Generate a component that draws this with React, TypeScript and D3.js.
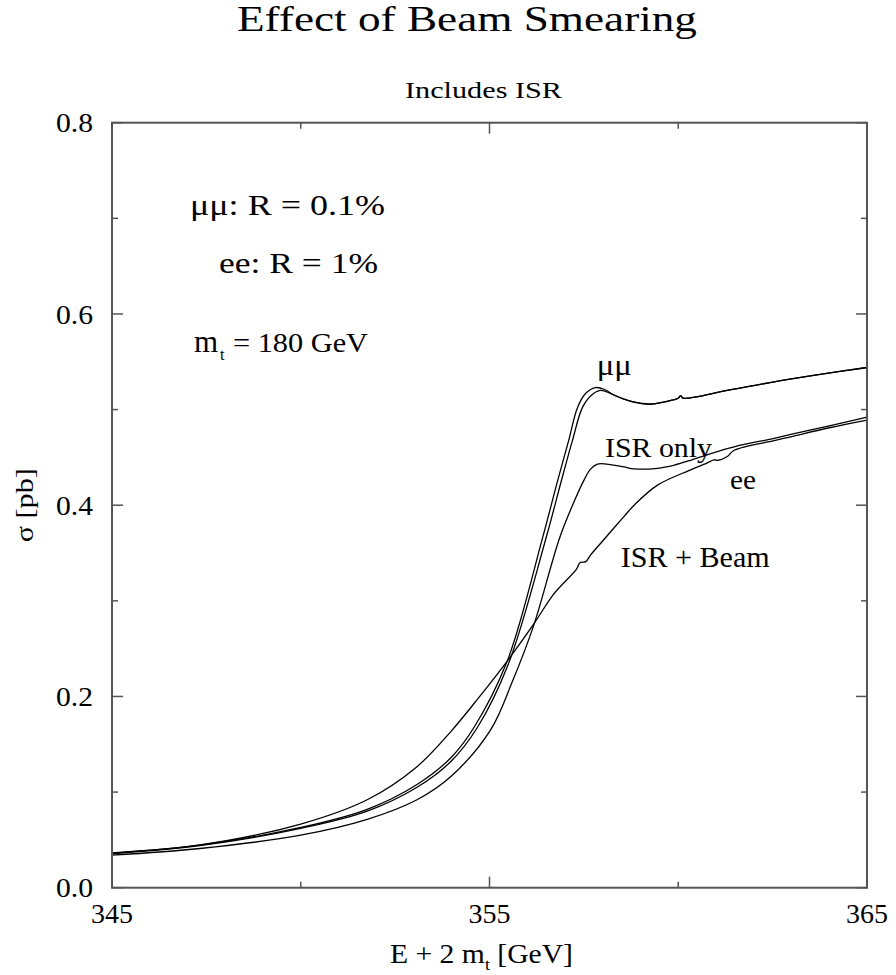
import React from "react";
import * as d3 from "d3";

// ---- data ----
const xTicksMajor = [345, 355, 365];
const xTicksMinor = [350, 360];
const yTicksMajor = [0, 0.2, 0.4, 0.6, 0.8];
const yTicksMinor = [0.1, 0.3, 0.5, 0.7];
const xTickLabels = ["345", "355", "365"];
const yTickLabels = ["0.0", "0.2", "0.4", "0.6", "0.8"];

// mu mu, ISR only (outer curve)
const muIsr: [number, number][] = [
  [345, 0.036], [347.33, 0.0445], [350, 0.063], [351.76, 0.082], [353.08, 0.108],
  [353.97, 0.1356], [354.58, 0.167], [355.47, 0.237], [356.4, 0.365], [356.8, 0.425],
  [357.1, 0.468], [357.33, 0.502], [357.55, 0.517], [357.8, 0.523], [358.05, 0.521],
  [358.3, 0.515], [358.82, 0.508], [359.27, 0.506], [359.9, 0.5105], [360.0, 0.5118],
  [360.06, 0.5145], [360.13, 0.512], [361.3, 0.520], [362.54, 0.529], [363.8, 0.537],
  [365, 0.544],
];
// mu mu, ISR + beam (inner curve)
const muBeam: [number, number][] = [
  [345, 0.0355], [347.33, 0.044], [350, 0.062], [351.76, 0.080], [353.08, 0.105],
  [353.97, 0.1317], [354.67, 0.167], [355.5, 0.234], [356.5, 0.366], [356.9, 0.425],
  [357.2, 0.468], [357.46, 0.502], [357.7, 0.515], [357.94, 0.520], [358.2, 0.517],
  [358.5, 0.512], [358.85, 0.5075], [359.27, 0.5055], [359.9, 0.5105], [360.0, 0.5118],
  [360.06, 0.5145], [360.13, 0.512], [361.3, 0.520], [362.54, 0.529], [363.8, 0.537],
  [365, 0.544],
];
// e e, ISR only
const eeIsr: [number, number][] = [
  [345, 0.034], [347.33, 0.041], [350, 0.055], [351.76, 0.0715], [353.08, 0.092],
  [353.97, 0.116], [355.03, 0.165], [355.6, 0.215], [356.16, 0.273], [356.85, 0.365],
  [357.2, 0.400], [357.5, 0.426], [357.68, 0.438], [357.86, 0.443], [358.1, 0.443],
  [358.56, 0.440], [358.83, 0.438], [359.45, 0.4386], [359.9, 0.442], [360.33, 0.447],
  [360.86, 0.454], [361.48, 0.461], [362.54, 0.470], [362.98, 0.474], [364, 0.483],
  [365, 0.492],
];
// e e, ISR + beam
const eeBeam: [number, number][] = [
  [345, 0.0365], [347.33, 0.0447], [350, 0.0666], [351.76, 0.092], [353.08, 0.1266],
  [353.97, 0.163], [354.7, 0.198], [355.47, 0.237], [356.16, 0.275], [356.7, 0.307],
  [357.3, 0.333], [357.4, 0.340], [357.55, 0.341], [357.68, 0.348], [357.94, 0.360],
  [358.56, 0.388], [358.83, 0.400], [359.45, 0.421], [360.33, 0.437], [360.73, 0.4435],
  [360.95, 0.4475], [361.05, 0.447], [361.3, 0.451], [361.48, 0.4575], [362.54, 0.4675],
  [362.98, 0.4715], [364, 0.481], [365, 0.489],
];
const series = [muIsr, muBeam, eeIsr, eeBeam];

const FONT = "Liberation Serif";

export default function App() {
  const x = d3.scaleLinear().domain([345, 365]).range([112, 867]);
  const y = d3.scaleLinear().domain([0, 0.8]).range([887.7, 122.7]);
  const line = d3
    .line<[number, number]>()
    .x((d) => x(d[0]))
    .y((d) => y(d[1]))
    .curve(d3.curveCatmullRom.alpha(0.5));

  const [x0, x1] = x.range();
  const [y0, y1] = y.range();
  const axisColor = "#555";
  const major = 11;
  const minor = 6;

  return (
    <svg
      width={896}
      height={975}
      style={{ position: "absolute", left: 0, top: 0, background: "#fff", fontFamily: FONT }}
    >
      <rect width={896} height={975} fill="#fff" />
      {/* title */}
      <text x={467} y={31} fontSize={36} textAnchor="middle" textLength={460} lengthAdjust="spacingAndGlyphs">
        Effect of Beam Smearing
      </text>
      <text x={483.5} y={98} fontSize={23} textAnchor="middle" textLength={157} lengthAdjust="spacingAndGlyphs">
        Includes ISR
      </text>

      {/* curves */}
      <g fill="none" stroke="#000" strokeWidth={1.3}>
        {series.map((s, i) => (
          <path key={i} d={line(s) || ""} />
        ))}
      </g>

      {/* frame */}
      <rect x={x0} y={y1} width={x1 - x0} height={y0 - y1} fill="none" stroke={axisColor} strokeWidth={2} />

      {/* ticks */}
      <g stroke={axisColor} strokeWidth={1.5}>
        {xTicksMajor.map((v) => (
          <g key={"xM" + v}>
            <line x1={x(v)} x2={x(v)} y1={y0} y2={y0 - major} />
            <line x1={x(v)} x2={x(v)} y1={y1} y2={y1 + major} />
          </g>
        ))}
        {xTicksMinor.map((v) => (
          <g key={"xm" + v}>
            <line x1={x(v)} x2={x(v)} y1={y0} y2={y0 - minor} />
            <line x1={x(v)} x2={x(v)} y1={y1} y2={y1 + minor} />
          </g>
        ))}
        {yTicksMajor.map((v) => (
          <g key={"yM" + v}>
            <line x1={x0} x2={x0 + major} y1={y(v)} y2={y(v)} />
            <line x1={x1} x2={x1 - major} y1={y(v)} y2={y(v)} />
          </g>
        ))}
        {yTicksMinor.map((v) => (
          <g key={"ym" + v}>
            <line x1={x0} x2={x0 + minor} y1={y(v)} y2={y(v)} />
            <line x1={x1} x2={x1 - minor} y1={y(v)} y2={y(v)} />
          </g>
        ))}
      </g>

      {/* tick labels */}
      <g fontSize={28} fill="#000">
        {xTicksMajor.map((v, i) => (
          <text key={"xl" + v} x={x(v)} y={922.7} textAnchor="middle" textLength={42} lengthAdjust="spacingAndGlyphs">
            {xTickLabels[i]}
          </text>
        ))}
        {yTicksMajor.map((v, i) => (
          <text key={"yl" + v} x={93} y={y(v) + 9.6} textAnchor="end" textLength={37} lengthAdjust="spacingAndGlyphs">
            {yTickLabels[i]}
          </text>
        ))}
      </g>

      {/* axis labels */}
      <text x={390} y={962.7} fontSize={28} textLength={183} lengthAdjust="spacingAndGlyphs">
        <tspan>E + 2 m</tspan>
        <tspan fontSize={17} dy={7}>t</tspan>
        <tspan dy={-7}> [GeV]</tspan>
      </text>
      <text
        transform={`translate(33,${(y0 + y1) / 2}) rotate(-90)`}
        fontSize={26}
        textAnchor="middle"
        textLength={74}
        lengthAdjust="spacingAndGlyphs"
      >
        σ [pb]
      </text>

      {/* annotations */}
      <text x={190} y={215} fontSize={30} textLength={195} lengthAdjust="spacingAndGlyphs">
        μμ: R = 0.1%
      </text>
      <text x={219} y={272.7} fontSize={30} textLength={159} lengthAdjust="spacingAndGlyphs">
        ee: R = 1%
      </text>
      <text x={194} y={351.7} fontSize={31}>
        m
      </text>
      <text x={220} y={360} fontSize={16}>
        t
      </text>
      <text x={233} y={351.7} fontSize={27} textLength={135} lengthAdjust="spacingAndGlyphs">
        = 180 GeV
      </text>

      <text x={596.7} y={375} fontSize={30} textLength={35} lengthAdjust="spacingAndGlyphs">
        μμ
      </text>
      <text x={605} y={457.3} fontSize={28} textLength={107} lengthAdjust="spacingAndGlyphs">
        ISR only
      </text>
      <text x={730} y={489} fontSize={27} textLength={26} lengthAdjust="spacingAndGlyphs">
        ee
      </text>
      <text x={620.7} y={566.7} fontSize={30} textLength={149} lengthAdjust="spacingAndGlyphs">
        ISR + Beam
      </text>
    </svg>
  );
}
